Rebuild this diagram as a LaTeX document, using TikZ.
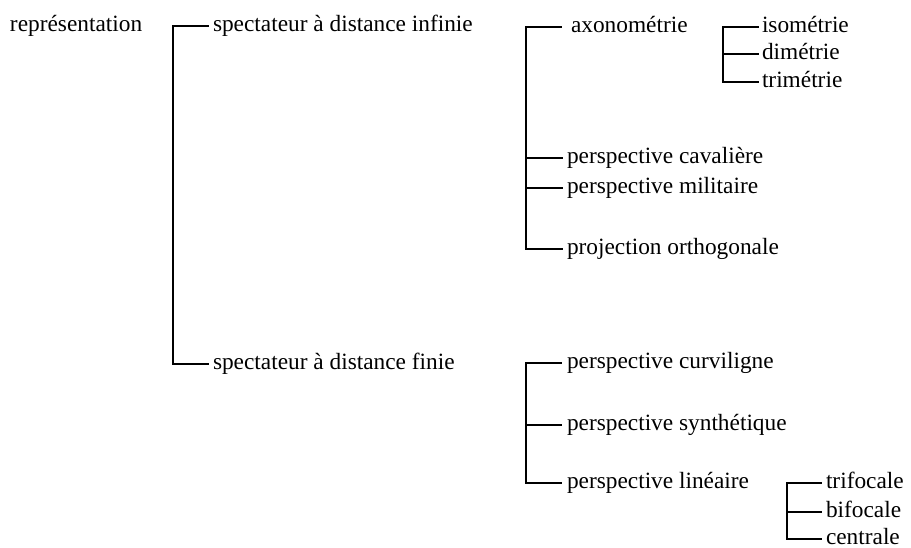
\documentclass[tikz,border=0pt]{standalone}
\usepackage{fontspec}
\setmainfont{Liberation Serif}
\begin{document}
\fontsize{17.5}{20}\selectfont
\begin{tikzpicture}[x=0.75pt,y=-0.75pt,
  term/.style={anchor=mid west,inner sep=0pt,outer sep=0pt},
  brace/.style={line width=2.2pt,line join=miter,line cap=rect}]
\useasboundingbox (0,0) rectangle (911,548);

% terms
\node[term] (rep)   at (10,26)  {représentation};
\node[term] (inf)   at (213,26) {spectateur à distance infinie};
\node[term] (fin)   at (213,364) {spectateur à distance finie};
\node[term] (axo)   at (571,27) {axonométrie};
\node[term] (cav)   at (567,158) {perspective cavalière};
\node[term] (mil)   at (567,188) {perspective militaire};
\node[term] (proj)  at (567,249) {projection orthogonale};
\node[term] (iso)   at (762,27) {isométrie};
\node[term] (dim)   at (762,54) {dimétrie};
\node[term] (tri)   at (762,82) {trimétrie};
\node[term] (curv)  at (567,363) {perspective curviligne};
\node[term] (synth) at (567,425) {perspective synthétique};
\node[term] (lin)   at (567,483) {perspective linéaire};
\node[term] (trif)  at (826,483) {trifocale};
\node[term] (bif)   at (826,512) {bifocale};
\node[term] (cent)  at (826,539) {centrale};

% spines of the braces
\coordinate (s1) at (173,0);
\coordinate (s2) at (526,0);
\coordinate (s3) at (723,0);
\coordinate (s4) at (526,0);
\coordinate (s5) at (787,0);

% représentation
\draw[brace] ([xshift=-4pt]inf.mid west) -| (s1 |- fin.mid west) -- ([xshift=-4pt]fin.mid west);
% distance infinie
\draw[brace] ([xshift=-8pt]axo.mid west) -| (s2 |- proj.mid west) -- ([xshift=-4pt]proj.mid west);
\draw[brace] (s2 |- cav.mid west) -- ([xshift=-4pt]cav.mid west);
\draw[brace] (s2 |- mil.mid west) -- ([xshift=-4pt]mil.mid west);
% axonométrie
\draw[brace] ([xshift=-3pt]iso.mid west) -| (s3 |- tri.mid west) -- ([xshift=-3pt]tri.mid west);
\draw[brace] (s3 |- dim.mid west) -- ([xshift=-3pt]dim.mid west);
% distance finie
\draw[brace] ([xshift=-5pt]curv.mid west) -| (s4 |- lin.mid west) -- ([xshift=-5pt]lin.mid west);
\draw[brace] (s4 |- synth.mid west) -- ([xshift=-5pt]synth.mid west);
% perspective linéaire
\draw[brace] ([xshift=-4pt]trif.mid west) -| (s5 |- cent.mid west) -- ([xshift=-4pt]cent.mid west);
\draw[brace] (s5 |- bif.mid west) -- ([xshift=-4pt]bif.mid west);
\end{tikzpicture}
\end{document}
